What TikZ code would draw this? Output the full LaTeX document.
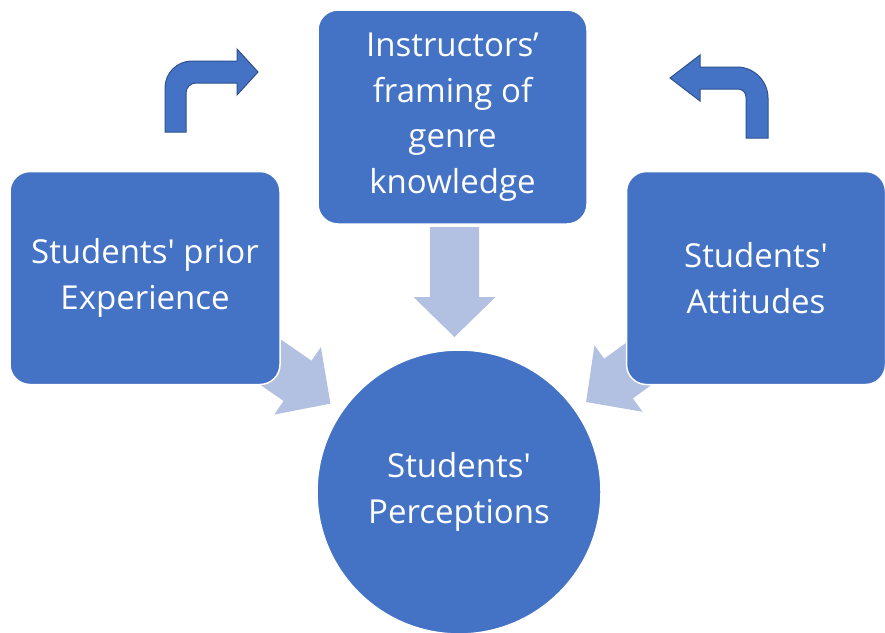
\documentclass[tikz,border=0pt]{standalone}
\usepackage{fontspec}
\setmainfont{Open Sans}
\definecolor{boxblue}{RGB}{68,114,196}
\definecolor{edgeblue}{RGB}{47,82,143}
\definecolor{lightblue}{RGB}{178,192,225}
\begin{document}
\begin{tikzpicture}[x=1pt,y=-1pt,
  box/.style={draw=white,line width=1.5pt,fill=boxblue,rounded corners=20pt,
    text=white,align=center,inner sep=0pt,font=\fontsize{33}{45.5}\selectfont},
  circ/.style={draw=white,line width=1.5pt,fill=boxblue,circle,minimum size=284pt,
    text=white,align=center,inner sep=0pt,font=\fontsize{33}{45.5}\selectfont},
  blockarrow/.style={fill=lightblue,draw=none},
  bentarrow/.style={fill=boxblue,draw=edgeblue,line width=1pt,line join=miter}]
\useasboundingbox (0,0) rectangle (885,632);
\fill[white] (0,0) rectangle (885,632);
% light block arrows (behind the boxes)
\foreach \name/\sx/\sy/\ang in {down/454.5/227/-90, leftin/240/341/-34.7, rightin/675.2/337.5/-144.1}{
  \begin{scope}[shift={(\sx,\sy)},rotate=\ang]
    \coordinate (\name-tail) at (0,0);
    \coordinate (\name-tip) at (110,0);
    \path[blockarrow] (0,-24.5) -- (70,-24.5) -- (70,-41) -- (\name-tip) -- (70,41) -- (70,24.5) -- (0,24.5) -- cycle;
  \end{scope}
}
% boxes
\node[box,minimum width=269pt,minimum height=214pt] (instr) at (452.5,117) {Instructors’\\framing of\\genre\\knowledge};
\node[box,minimum width=270pt,minimum height=213pt] (prior) at (145,278) {Students\textquotesingle{} prior\\Experience};
\node[box,minimum width=259pt,minimum height=213pt] (att) at (756,278) {Students\textquotesingle\\Attitudes};
\node[circ] (perc) at (459,492) {Students\textquotesingle\\Perceptions};
% bent arrows
\path[bentarrow] (165,132) -- (165,88) .. controls (165,73) and (177,61) .. (192,61)
  -- (237,61) -- (237,49) -- (258,72) -- (237,95) -- (237,83) -- (196,83)
  .. controls (190.5,83) and (186,87.5) .. (186,93) -- (186,132) -- cycle;
\path[bentarrow] (768,138) -- (768,98) .. controls (768,81) and (754,67) .. (737,67)
  -- (700,67) -- (700,55) -- (670,78) -- (700,101) -- (700,89) -- (738,89)
  .. controls (742.4,89) and (746,92.6) .. (746,97) -- (746,138) -- cycle;
\end{tikzpicture}
\end{document}
